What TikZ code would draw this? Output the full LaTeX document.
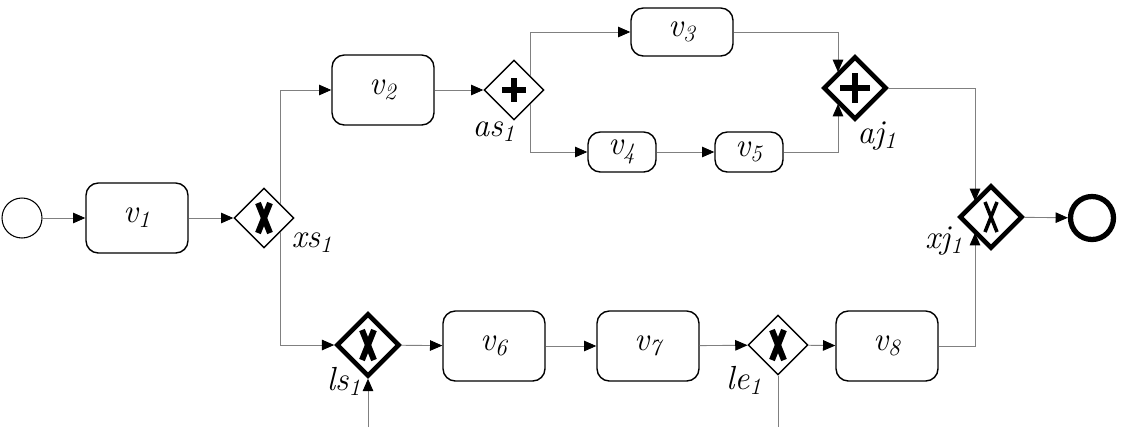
\documentclass[tikz,border=0pt]{standalone}
\usetikzlibrary{shapes.geometric,arrows.meta}
\begin{document}
\begin{tikzpicture}[x=0.02cm,y=-0.02cm,
  task/.style={draw,rounded corners=7pt,line width=0.8pt,minimum width=2.04cm,minimum height=1.4cm,font=\fontsize{19}{19}\selectfont\itshape},
  small/.style={task,minimum width=1.36cm,minimum height=0.8cm},
  gw/.style={draw,diamond,minimum width=1.2cm,minimum height=1.2cm,inner sep=0pt,line width=0.8pt},
  gwb/.style={gw,line width=2.6pt,minimum width=1.26cm,minimum height=1.26cm},
  lbl/.style={font=\fontsize{19}{19}\selectfont\itshape},
  flow/.style={draw=gray,line width=0.5pt,-{Triangle[length=7pt,width=6pt,color=black]}},
  plain/.style={draw=gray,line width=0.5pt}]
\useasboundingbox (0,0) rectangle (1122,427);
\node[draw,circle,minimum size=0.8cm,line width=0.6pt] (s) at (22,218) {};
\node[task] (v1) at (137,218) {v\textsubscript{1}};
\node[gw] (xs) at (264,218) {};
\node[task] (v2) at (383,90) {v\textsubscript{2}};
\node[gw] (as) at (514,90) {};
\node[task,minimum height=0.96cm] (v3) at (682,32) {v\textsubscript{3}};
\node[small] (v4) at (622,152) {v\textsubscript{4}};
\node[small] (v5) at (749,152) {v\textsubscript{5}};
\node[gwb] (aj) at (855,88) {};
\node[gwb] (xj) at (991,217) {};
\node[draw,circle,minimum size=0.86cm,line width=3pt] (e) at (1092,218) {};
\node[gwb] (ls) at (368,345) {};
\node[task] (v6) at (494,346) {v\textsubscript{6}};
\node[task] (v7) at (648,346) {v\textsubscript{7}};
\node[gw] (le) at (778,345) {};
\node[task] (v8) at (887,346) {v\textsubscript{8}};
\coordinate (lsin) at (368,427);
\coordinate (leout) at (778,427);
\coordinate (xsn) at (280,204);
\coordinate (xss) at (280,232);
\coordinate (asn) at (530,76);
\coordinate (ass) at (530,104);
\coordinate (ajn) at (838,72);
\coordinate (ajs) at (838,104);
\coordinate (xjn) at (975,201);
\coordinate (xjs) at (975,233);
% markers
\foreach \n/\w in {xs/3.4pt,le/3.4pt,ls/3.4pt,xj/2pt}{
  \draw[line width=\w] ([shift={(-6,-15)}]\n.center) .. controls (\n.center) .. ([shift={(6,15)}]\n.center);
  \draw[line width=\w] ([shift={(6,-15)}]\n.center) .. controls (\n.center) .. ([shift={(-6,15)}]\n.center);}
\draw[line width=3.5pt] ([shift={(-12,0)}]as.center) -- ([shift={(12,0)}]as.center) ([shift={(0,-12)}]as.center) -- ([shift={(0,12)}]as.center);
\draw[line width=3.5pt] ([shift={(-15,0)}]aj.center) -- ([shift={(15,0)}]aj.center) ([shift={(0,-15)}]aj.center) -- ([shift={(0,15)}]aj.center);
% labels
\node[lbl] at (312,243) {xs\textsubscript{1}};
\node[lbl] at (494,132) {as\textsubscript{1}};
\node[lbl] at (877,136) {aj\textsubscript{1}};
\node[lbl] at (944,241) {xj\textsubscript{1}};
\node[lbl] at (344,381) {ls\textsubscript{1}};
\node[lbl] at (744,380) {le\textsubscript{1}};
% flows
\path[flow] (s) -- (v1);
\path[flow] (v1) -- (xs);
\path[flow] (xsn) |- (v2);
\path[flow] (xss) |- (ls);
\path[flow] (v2) -- (as);
\path[flow] (asn) |- (v3);
\path[flow] (ass) |- (v4);
\path[flow] (v4) -- (v5);
\path[flow] (v3) -| (ajn);
\path[flow] (v5) -| (ajs);
\path[flow] (aj) -| (xjn);
\path[flow] (v8) -| (xjs);
\path[flow] (xj) -- (e);
\path[flow] (ls) -- (v6);
\path[flow] (v6) -- (v7);
\path[flow] (v7) -- (le);
\path[flow] (le) -- (v8);
\path[flow] (lsin) -- (ls.south);
\path[plain] (le.south) -- (leout);
\end{tikzpicture}
\end{document}
